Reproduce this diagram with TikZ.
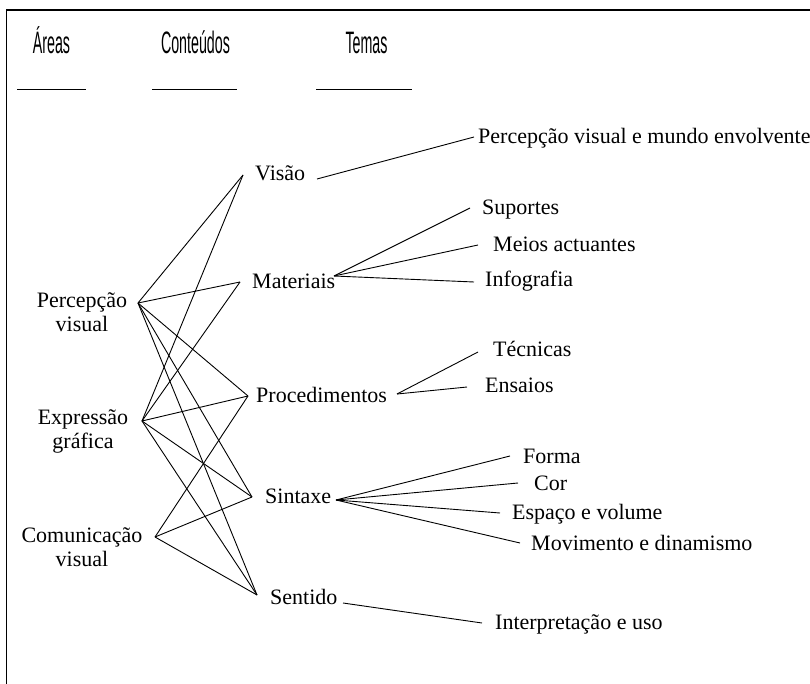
\documentclass[tikz,border=0pt]{standalone}
\usepackage{graphicx}
\usepackage{fontspec}
\setmainfont{Liberation Serif}
\newfontfamily\hdrfont{Liberation Sans}
\begin{document}
\begin{tikzpicture}[x=1pt,y=-1pt,
  lbl/.style={font=\fontsize{22}{24.5}\selectfont, inner sep=0pt, anchor=base west},
  lft/.style={font=\fontsize{22}{24.5}\selectfont, inner sep=0pt, anchor=base, text width=140pt, align=center},
  hdr/.style={font=\hdrfont\fontsize{31}{33}\selectfont, inner sep=0pt, anchor=base},
  link/.style={line width=0.9pt, black},
  frame/.style={line width=1.6pt, black}]
\useasboundingbox (0,0) rectangle (810,684);
% frame
\coordinate (fTR) at (810,10);
\coordinate (fTL) at (6.5,10);
\coordinate (fBL) at (6.5,684);
\draw[frame] (fTR) -- (fTL) -- (fBL);
% headers
\node[hdr] (hA) at (51.5,53.3) {\scalebox{0.46}[1]{Áreas}};
\node[hdr] (hC) at (195.5,53.3) {\scalebox{0.46}[1]{Conteúdos}};
\node[hdr] (hT) at (366.5,53.3) {\scalebox{0.46}[1]{Temas}};
\coordinate (uA1) at (17,89.3); \coordinate (uA2) at (86,89.3);
\coordinate (uC1) at (152,89.3); \coordinate (uC2) at (237,89.3);
\coordinate (uT1) at (316,89.3); \coordinate (uT2) at (412,89.3);
\draw[link] (uA1) -- (uA2);
\draw[link] (uC1) -- (uC2);
\draw[link] (uT1) -- (uT2);
% areas
\node[lft] (per) at (82,307) {Percepção\\visual};
\node[lft] (exp) at (83,424) {Expressão\\gráfica};
\node[lft] (com) at (82,542) {Comunicação\\visual};
% conteudos
\node[lbl] (vis) at (255,181) {Visão};
\node[lbl] (mat) at (252,288) {Materiais};
\node[lbl] (pro) at (256,402) {Procedimentos};
\node[lbl] (sin) at (265,503) {Sintaxe};
\node[lbl] (sen) at (270,604) {Sentido};
% temas
\node[lbl] (t1) at (478,144) {Percepção visual e mundo envolvente};
\node[lbl] (t2) at (482,215) {Suportes};
\node[lbl] (t3) at (493,252) {Meios actuantes};
\node[lbl] (t4) at (485,287) {Infografia};
\node[lbl] (t5) at (493,356) {Técnicas};
\node[lbl] (t6) at (485,392) {Ensaios};
\node[lbl] (t7) at (523,463) {Forma};
\node[lbl] (t8) at (534,490) {Cor};
\node[lbl] (t9) at (512,519) {Espaço e volume};
\node[lbl] (t10) at (531,550) {Movimento e dinamismo};
\node[lbl] (t11) at (495,629) {Interpretação e uso};
% connection points
\coordinate (perR) at (138,303);
\coordinate (expR) at (142,421);
\coordinate (comR) at (155,537);
\coordinate (visL) at (243,175);
\coordinate (matL) at (240,282);
\coordinate (proL) at (248,396);
\coordinate (sinL) at (252,497);
\coordinate (senL) at (257,595);
\coordinate (visR) at (317,179);
\coordinate (matR) at (334,276);
\coordinate (proR) at (397,394);
\coordinate (sinR) at (336,500);
\coordinate (senR) at (343,603);
\coordinate (t1L) at (474,137);
\coordinate (t2L) at (470,208);
\coordinate (t3L) at (478,245);
\coordinate (t4L) at (474,282);
\coordinate (t5L) at (478,352);
\coordinate (t6L) at (467,387);
\coordinate (t7L) at (510,456);
\coordinate (t8L) at (518,483);
\coordinate (t9L) at (500,513);
\coordinate (t10L) at (520,543);
\coordinate (t11L) at (482,623);
% areas -> conteudos
\foreach \c in {visL,matL,proL,sinL,senL} {
  \draw[link] (perR) -- (\c);
  \draw[link] (expR) -- (\c);
}
\foreach \c in {proL,sinL,senL} {
  \draw[link] (comR) -- (\c);
}
% conteudos -> temas
\draw[link] (visR) -- (t1L);
\draw[link] (matR) -- (t2L);
\draw[link] (matR) -- (t3L);
\draw[link] (matR) -- (t4L);
\draw[link] (proR) -- (t5L);
\draw[link] (proR) -- (t6L);
\draw[link] (sinR) -- (t7L);
\draw[link] (sinR) -- (t8L);
\draw[link] (sinR) -- (t9L);
\draw[link] (sinR) -- (t10L);
\draw[link] (senR) -- (t11L);
\end{tikzpicture}
\end{document}
